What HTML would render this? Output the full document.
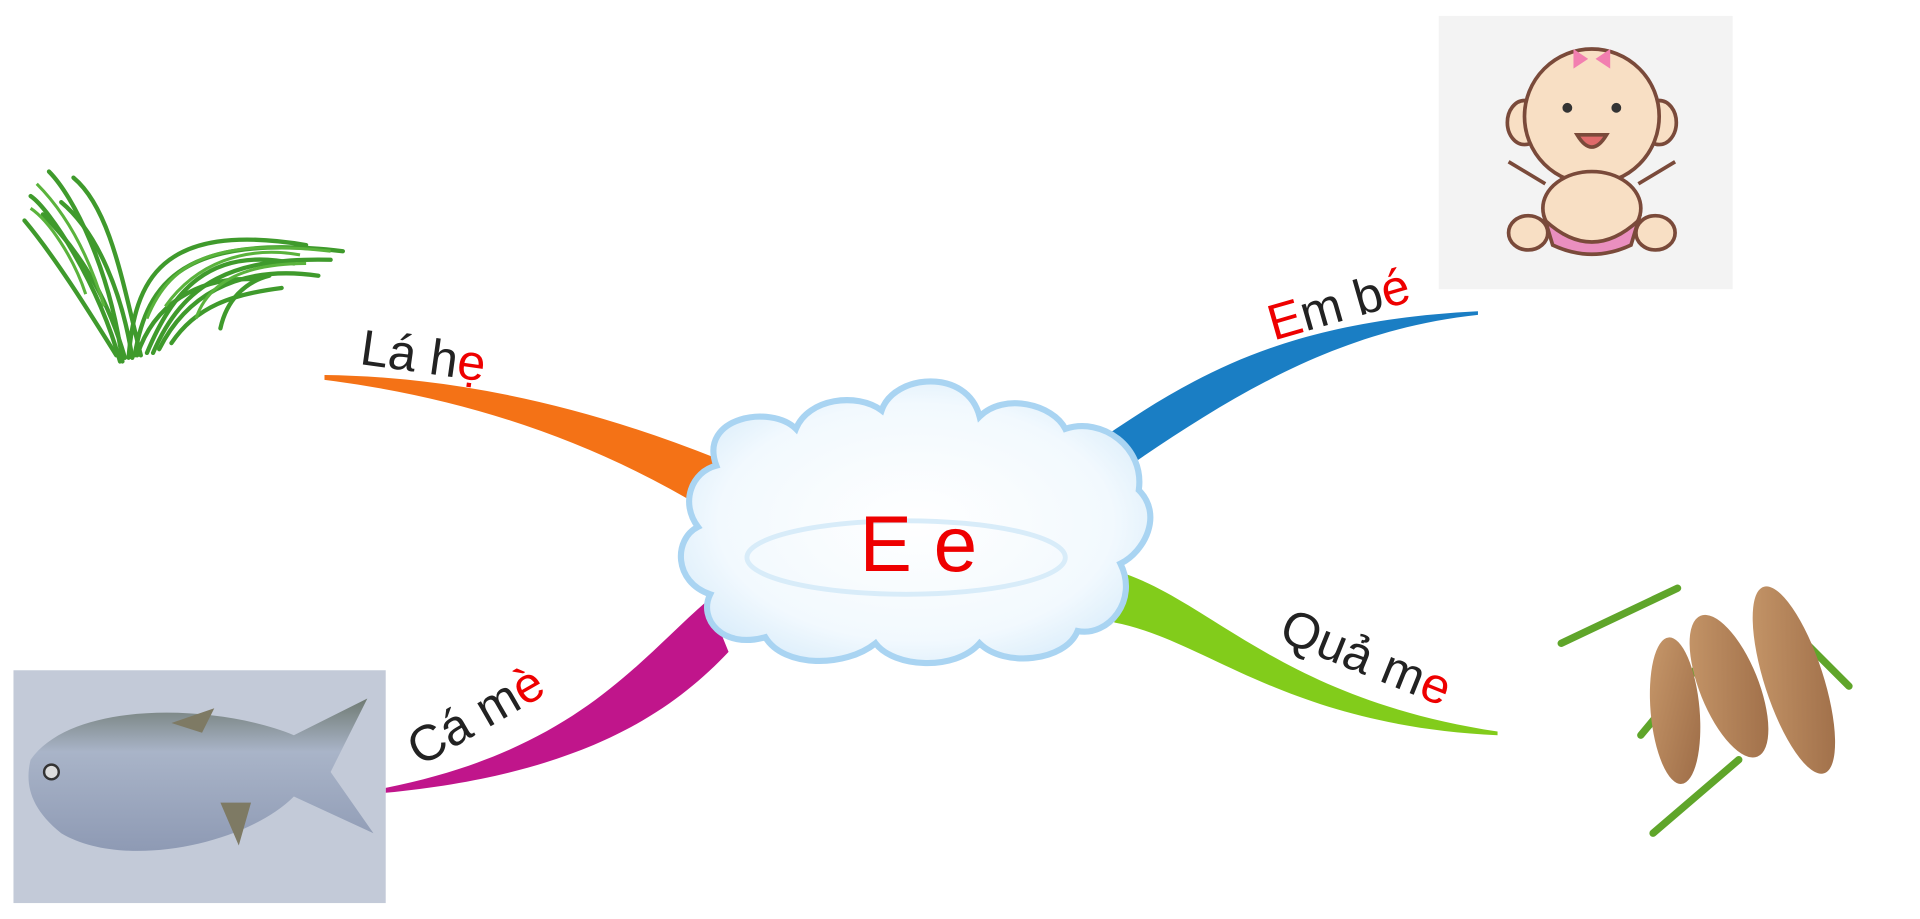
<!DOCTYPE html>
<html><head><meta charset="utf-8"><style>
html,body{margin:0;padding:0;background:#fff;width:1920px;height:919px;overflow:hidden}
svg{display:block}
text{font-family:"Liberation Sans",sans-serif}
</style></head><body>
<svg width="1920" height="919" viewBox="0 0 1568 750" preserveAspectRatio="none" xmlns="http://www.w3.org/2000/svg">
<defs>
<radialGradient id="cl" cx="50%" cy="50%" r="60%"><stop offset="0" stop-color="#ffffff"/><stop offset="0.7" stop-color="#f2f9fe"/><stop offset="1" stop-color="#d6ebfa"/></radialGradient>
<linearGradient id="tam" x1="0" y1="0" x2="1" y2="1"><stop offset="0" stop-color="#c99a6c"/><stop offset="1" stop-color="#9b6a45"/></linearGradient>
<linearGradient id="fish" x1="0" y1="0" x2="0" y2="1"><stop offset="0" stop-color="#6f7a72"/><stop offset="0.35" stop-color="#a9b4c8"/><stop offset="1" stop-color="#8e9ab4"/></linearGradient>
</defs>
<!-- branches -->
<path d="M265,306 Q420,308 585,374 L580,418 Q440,332 265,310 Z" fill="#f47216"/>
<path d="M888,366 C975,305 1050,262 1207,254 L1207,257 C1085,270 995,330 905,392 Z" fill="#1a7ec4"/>
<path d="M912,466 C990,490 1045,570 1223,597 L1223,600 C1050,592 985,522 910,508 Z" fill="#82cc1b"/>
<path d="M578,490 C520,540 470,612 315,643 L315,647 C470,632 545,585 595,532 Z" fill="#c0158b"/>
<!-- labels -->
<text transform="translate(293,297) rotate(8)" font-size="41" fill="#222">Lá h<tspan fill="#e00">ẹ</tspan></text>
<text transform="translate(1040,278) rotate(-16)" font-size="41" fill="#222"><tspan fill="#e00">E</tspan>m b<tspan fill="#e00">é</tspan></text>
<text transform="translate(1043,522) rotate(22)" font-size="41" fill="#222">Quả m<tspan fill="#e00">e</tspan></text>
<text transform="translate(343,626) rotate(-30)" font-size="41" fill="#222">Cá m<tspan fill="#e00">è</tspan></text>
<!-- cloud -->
<g fill="url(#cl)" stroke="#a9d4f2" stroke-width="5">
<path d="M585,380 C570,340 630,330 650,350 C660,325 700,320 720,335 C730,305 790,300 800,340 C820,320 860,330 870,350 C900,340 935,365 930,400 C950,420 935,450 915,460 C930,490 905,520 880,515 C870,540 820,545 800,525 C780,548 730,545 715,525 C690,545 640,545 625,520 C590,530 570,505 580,485 C550,475 550,440 570,430 C555,410 565,385 585,380 Z"/>
</g>
<ellipse cx="740" cy="455" rx="130" ry="30" fill="none" stroke="#d8ecf9" stroke-width="4"/>
<text x="750" y="466" text-anchor="middle" font-size="64" fill="#e00">E e</text>
<!-- grass -->
<g stroke="#3f9a2c" stroke-width="3.5" fill="none" stroke-linecap="round">
<path d="M98,295 C80,230 40,170 25,160"/><path d="M100,295 C90,220 60,160 40,140"/>
<path d="M110,290 C120,230 150,190 280,205"/><path d="M105,292 C110,230 130,180 250,200"/>
<path d="M120,288 C140,240 170,200 240,215"/><path d="M95,290 C70,250 45,210 20,180"/>
<path d="M130,285 C150,245 190,215 260,225"/><path d="M115,290 C100,230 90,170 60,145"/>
<path d="M140,280 C160,250 190,240 230,235"/><path d="M180,268 C185,245 200,230 220,225"/>
<path d="M108,292 C100,240 80,190 50,165"/><path d="M125,288 C150,230 190,210 270,212"/>
<path d="M112,290 C125,250 160,225 210,228"/><path d="M102,292 C90,250 70,210 35,175"/>
</g>
<g stroke="#5ab33c" stroke-width="2.5" fill="none">
<path d="M85,250 C70,200 50,170 30,150"/><path d="M120,260 C140,210 180,195 270,205"/><path d="M160,260 C170,230 200,215 250,215"/>
<path d="M70,240 C60,210 40,180 25,170"/><path d="M135,250 C160,215 200,200 245,208"/>
</g>
<!-- baby -->
<rect x="1175" y="13" width="240" height="223" fill="#f3f3f3"/>
<g stroke="#7a4a3a" stroke-width="3">
<path d="M1262,150 L1232,132 M1338,150 L1368,132" />
<ellipse cx="1245" cy="100" rx="14" ry="18" fill="#f8dfc4"/><ellipse cx="1355" cy="100" rx="14" ry="18" fill="#f8dfc4"/>
<ellipse cx="1300" cy="95" rx="55" ry="55" fill="#f8dfc4"/>
<ellipse cx="1300" cy="170" rx="40" ry="30" fill="#f8dfc4"/>
<path d="M1262,180 Q1300,215 1338,180 L1332,200 Q1300,215 1268,200 Z" fill="#ea8fbf"/>
<ellipse cx="1248" cy="190" rx="16" ry="14" fill="#f8dfc4"/><ellipse cx="1352" cy="190" rx="16" ry="14" fill="#f8dfc4"/>
<path d="M1288,110 Q1300,130 1312,110 Z" fill="#e06a6a"/>
</g>
<circle cx="1280" cy="88" r="4" fill="#333"/><circle cx="1320" cy="88" r="4" fill="#333"/>
<path d="M1297,48 l-12,-8 v16 z M1303,48 l12,-8 v16 z" fill="#f27fb0"/>
<!-- tamarind -->
<g stroke="#5fa52a" stroke-width="6" fill="none" stroke-linecap="round">
<path d="M1275,525 L1370,480"/><path d="M1340,600 L1390,540"/><path d="M1350,680 L1420,620"/><path d="M1470,520 L1510,560"/>
</g>
<g fill="url(#tam)">
<ellipse cx="1368" cy="580" rx="20" ry="60" transform="rotate(-5 1368 580)"/>
<ellipse cx="1412" cy="560" rx="24" ry="62" transform="rotate(-22 1412 560)"/>
<ellipse cx="1465" cy="555" rx="24" ry="80" transform="rotate(-18 1465 555)"/>
</g>
<!-- fish -->
<rect x="11" y="547" width="304" height="190" fill="#c3cad8"/>
<path d="M25,620 C60,570 180,575 240,600 L300,570 L270,630 L305,680 L240,650 C200,690 100,710 50,680 C25,660 20,640 25,620 Z" fill="url(#fish)"/>
<path d="M140,590 L175,578 L165,598 Z M180,655 L195,690 L205,655 Z" fill="#7e7a64"/>
<circle cx="42" cy="630" r="6" fill="#ddd" stroke="#333" stroke-width="2"/>
</svg>
</body></html>
